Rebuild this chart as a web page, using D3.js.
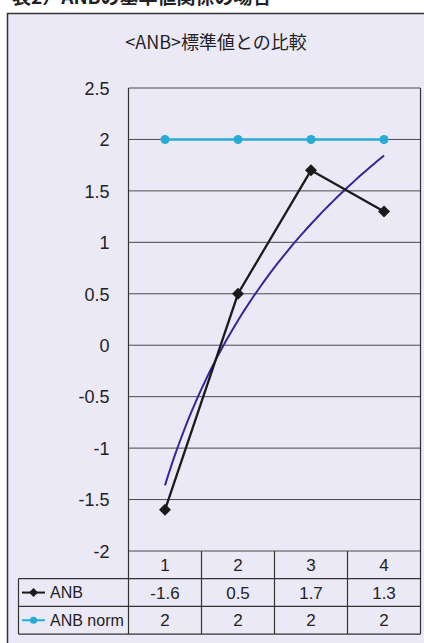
<!DOCTYPE html>
<html>
<head>
<meta charset="utf-8">
<script src="https://cdn.jsdelivr.net/npm/d3@7"></script>
<style>
  html, body { margin: 0; padding: 0; background: #ffffff; }
  svg { display: block; }
</style>
</head>
<body>
<svg id="chart" width="424" height="643"></svg>
<script>
// Chart data
const categories = ["1", "2", "3", "4"];
const anbValues = [-1.6, 0.5, 1.7, 1.3];
const normValues = [2, 2, 2, 2];
const yTicks = [2.5, 2, 1.5, 1, 0.5, 0, -0.5, -1, -1.5, -2];
const seriesNames = ["ANB", "ANB norm"];
const chartTitle = "<ANB>標準値との比較";
const headerText = "表2）ANBの基準値関係の場合";

const latin = "'Liberation Sans', Arial, sans-serif";
const cjk = "'Noto Sans CJK JP', 'Liberation Sans', sans-serif";
// plain hyphen for negatives
const fmt = v => d3.format("~g")(v).replace("\u2212", "-");

const svg = d3.select("#chart");

// Plot geometry
const plot = { left: 128.5, right: 420.5, top: 88, bottom: 551 };
const rowH = 27.7;
const tableLeft = 18.5;

const x = d3.scaleBand().domain(categories).range([plot.left, plot.right]);
const y = d3.scaleLinear().domain([-2, 2.5]).range([plot.bottom, plot.top]);
const cx = c => x(c) + x.bandwidth() / 2;

// Heading line running off the top of the page
svg.append("text")
  .attr("x", 12).attr("y", 4)
  .attr("font-family", cjk).attr("font-size", 19).attr("font-weight", "bold")
  .attr("fill", "#222")
  .text(headerText);

// Chart frame
svg.append("rect")
  .attr("x", 7.5).attr("y", 13.5)
  .attr("width", 430).attr("height", 650)
  .attr("fill", "#ece9f7").attr("stroke", "#333").attr("stroke-width", 1.5);

// Title
svg.append("text")
  .attr("x", 216).attr("y", 49)
  .attr("text-anchor", "middle")
  .attr("font-family", cjk).attr("font-size", 18).attr("fill", "#222")
  .text(chartTitle);

// Y labels and horizontal gridlines
const yAxis = d3.axisLeft(y).tickValues(yTicks).tickSize(0).tickPadding(0).tickFormat(fmt);
const yg = svg.append("g").attr("transform", `translate(${plot.left},0)`).call(yAxis);
yg.select(".domain").remove();
yg.attr("font-size", null).attr("font-family", null);
yg.selectAll("text")
  .attr("x", -19).attr("dy", "0.35em")
  .attr("font-family", latin).attr("font-size", 18).attr("fill", "#222");

svg.append("g").selectAll("line").data(yTicks).join("line")
  .attr("x1", plot.left).attr("x2", plot.right)
  .attr("y1", d => y(d)).attr("y2", d => y(d))
  .attr("stroke", "#4a4a4a").attr("stroke-width", 1);

// Plot sides
[plot.left, plot.right].forEach(px => {
  svg.append("line")
    .attr("x1", px).attr("x2", px)
    .attr("y1", plot.top).attr("y2", plot.bottom + rowH * 3)
    .attr("stroke", "#333").attr("stroke-width", 1.2);
});

// Data table under the plot
const rowTop = i => plot.bottom + rowH * i;
const tbl = svg.append("g").attr("stroke", "#333").attr("stroke-width", 1.2);
categories.slice(1).forEach(c => {
  tbl.append("line")
    .attr("x1", x(c)).attr("x2", x(c))
    .attr("y1", rowTop(0)).attr("y2", rowTop(3));
});
[1, 2, 3].forEach(i => {
  tbl.append("line")
    .attr("x1", tableLeft).attr("x2", plot.right)
    .attr("y1", rowTop(i)).attr("y2", rowTop(i));
});
tbl.append("line")
  .attr("x1", tableLeft).attr("x2", tableLeft)
  .attr("y1", rowTop(1)).attr("y2", rowTop(3));

const cellText = (txt, xx, row) => svg.append("text")
  .attr("x", xx).attr("y", rowTop(row) + rowH / 2)
  .attr("dy", "0.36em").attr("text-anchor", "middle")
  .attr("font-family", latin).attr("font-size", 17).attr("fill", "#222")
  .text(txt);

categories.forEach((c, i) => {
  cellText(c, cx(c), 0);
  cellText(fmt(anbValues[i]), cx(c), 1);
  cellText(fmt(normValues[i]), cx(c), 2);
});

// Series colours and markers
const anbColor = "#1b1b1b";
const normColor = "#28acd6";
const trendColor = "#37259a";
const square = size => d3.symbol().type(d3.symbolSquare).size(size);

// Legend keys inside the table
[{ name: seriesNames[0], color: anbColor, sym: "d" },
 { name: seriesNames[1], color: normColor, sym: "c" }].forEach((s, i) => {
  const yy = rowTop(i + 1) + rowH / 2;
  svg.append("line")
    .attr("x1", 22).attr("x2", 45).attr("y1", yy).attr("y2", yy)
    .attr("stroke", s.color).attr("stroke-width", 2);
  if (s.sym === "d") {
    svg.append("path").attr("d", square(40)())
      .attr("transform", `translate(33.5,${yy}) rotate(45)`).attr("fill", s.color);
  } else {
    svg.append("circle").attr("cx", 33.5).attr("cy", yy).attr("r", 3.6).attr("fill", s.color);
  }
  svg.append("text")
    .attr("x", 50).attr("y", yy).attr("dy", "0.36em")
    .attr("font-family", latin).attr("font-size", 16).attr("fill", "#222")
    .text(s.name);
});

// Norm series
const line = d3.line().x(d => cx(d[0])).y(d => y(d[1]));
const normPts = categories.map((c, i) => [c, normValues[i]]);
svg.append("path").attr("d", line(normPts))
  .attr("fill", "none").attr("stroke", normColor).attr("stroke-width", 2.5);
svg.append("g").selectAll("circle").data(normPts).join("circle")
  .attr("cx", d => cx(d[0])).attr("cy", d => y(d[1])).attr("r", 4.5)
  .attr("fill", normColor);

// Logarithmic least-squares trendline of the ANB series
const lnX = categories.map((c, i) => Math.log(i + 1));
const mx = d3.mean(lnX), my = d3.mean(anbValues);
const slope = d3.sum(lnX, (v, i) => (v - mx) * (anbValues[i] - my)) /
              d3.sum(lnX, v => (v - mx) * (v - mx));
const icpt = my - slope * mx;
const xPos = d3.scaleLinear().domain([1, categories.length])
  .range([cx(categories[0]), cx(categories[categories.length - 1])]);
const trendPts = d3.range(1, categories.length + 0.001, 0.05)
  .map(t => [xPos(t), y(icpt + slope * Math.log(t))]);
svg.append("path").attr("d", d3.line().curve(d3.curveMonotoneX)(trendPts))
  .attr("fill", "none").attr("stroke", trendColor).attr("stroke-width", 2);

// ANB series
const anbPts = categories.map((c, i) => [c, anbValues[i]]);
svg.append("path").attr("d", line(anbPts))
  .attr("fill", "none").attr("stroke", anbColor).attr("stroke-width", 2.3);
svg.append("g").selectAll("path").data(anbPts).join("path")
  .attr("d", square(72)())
  .attr("transform", d => `translate(${cx(d[0])},${y(d[1])}) rotate(45)`)
  .attr("fill", anbColor);
</script>
</body>
</html>
